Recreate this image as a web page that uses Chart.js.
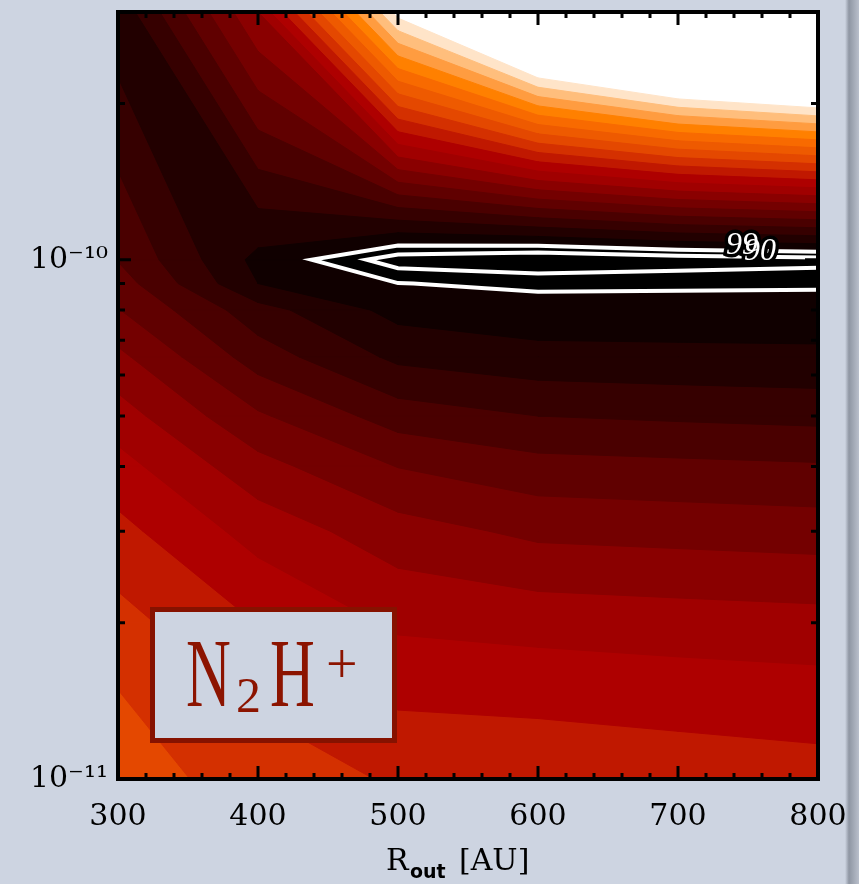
<!DOCTYPE html>
<html>
<head>
<meta charset="utf-8">
<script src="https://cdn.jsdelivr.net/npm/chart.js@4.4.0/dist/chart.umd.min.js"></script>
<style>
  html, body { margin: 0; padding: 0; }
  body {
    width: 859px; height: 884px; overflow: hidden;
    background: linear-gradient(to right, #cdd4e1 0px, #cdd4e1 845px, #8f96a3 849px, #b9bfcb 859px);
  }
</style>
</head>
<body>
<canvas id="chart" width="859" height="884"></canvas>
<script>
// grid of the map: R_out nodes (AU) and vertical-axis nodes
const rOut = [300, 400, 500, 600, 700, 800];
const yNodes = [1e-11, 1.5e-11, 2e-11, 3e-11, 4e-11, 5e-11, 6.5e-11, 8e-11, 9e-11, 1e-10, 3e-10];

// level read at each node, one column per R_out (bottom -> top)
const lev300 = [7.2, 8.02, 8.64, 9.70, 10.63, 11.54, 12.75, 13.95, 14.5, 15.05, 17.7];
const lev400 = [8.76, 9.1, 10.03, 11.39, 12.64, 13.85, 15.49, 16.6, 18.0, 18.3, 12.0];
const lev500 = [9.05, 10.31, 11.16, 12.57, 14.03, 15.47, 17.23, 18.34, 18.98, 20.13, 0.52];
const lev600 = [9.2, 10.41, 11.36, 13.23, 14.64, 16.0, 17.65, 18.64, 19.16, 20.5, -6.07];
const lev700 = [9.4, 10.55, 11.5, 13.35, 14.77, 16.15, 17.75, 18.55, 19.17, 20.19, -9.37];
const lev800 = [9.58, 10.67, 11.62, 13.47, 14.89, 16.28, 17.82, 18.47, 19.16, 20.0, -11.0];

// filled contour boundaries and their colours (low -> high)
const bandEdges = [1, 2, 3, 4, 5, 6, 7, 8, 9, 10, 11, 12, 13, 14, 15, 16, 17, 18, 19];
const bandColors = ['#ffffff', '#ffe4c8', '#ffbe7c', '#ff9c40', '#ff8000', '#f86a00', '#ee5a00', '#e44800',
  '#d43000', '#c01800', '#ae0000', '#a00000', '#8a0000', '#740000', '#600000', '#4a0000',
  '#360000', '#220000', '#100000', '#000000'];

// line contours (confidence levels) and their labels
const lineLevels = [19.0, 19.72];
const lineNames = ['90', '99'];
const labelText = ['99', '90'];
const labelR = [745.7, 758.6];
const labelY = [1.064e-10, 1.036e-10];

// axes
const xTickValues = [300, 400, 500, 600, 700, 800];
const xTickLabels = ['300', '400', '500', '600', '700', '800'];
const yTickValues = [1e-11, 1e-10];
const yTickLabels = ['10\u207B\u00B9\u00B9', '10\u207B\u00B9\u2070'];
const yMinorTicks = [2e-11, 3e-11, 4e-11, 5e-11, 6e-11, 7e-11, 8e-11, 9e-11, 2e-10];
const xMinorStep = 20;

// --- grid cells ---
const cols = [lev300, lev400, lev500, lev600, lev700, lev800];
function node(i, j) {
    return { x: rOut[i], v: Math.log10(yNodes[j]), z: cols[i][j] };
}
const cells = [];
for (let i = 0; i < rOut.length - 1; i++) {
    for (let j = 0; j < yNodes.length - 1; j++) {
        // bottom-left, bottom-right, top-right, top-left
        cells.push([node(i, j), node(i + 1, j), node(i + 1, j + 1), node(i, j + 1)]);
    }
}

function edgePoint(p, q, c) {
    if (p.x > q.x || (p.x === q.x && p.v > q.v)) { const t = p; p = q; q = t; }
    const t = (c - p.z) / (q.z - p.z);
    return { x: p.x + t * (q.x - p.x), v: p.v + t * (q.v - p.v), z: c };
}

// part of a cell at or above a level (values linear along the cell edges)
function above(poly, lvl) {
    const out = [];
    for (let k = 0; k < poly.length; k++) {
        const p = poly[k], q = poly[(k + 1) % poly.length];
        const pin = p.z >= lvl, qin = q.z >= lvl;
        if (pin) out.push(p);
        if (pin !== qin) out.push(edgePoint(p, q, lvl));
    }
    return out;
}

const datasets = [];
const toData = poly => {
    const pts = poly.map(p => ({ x: p.x, y: Math.pow(10, p.v) }));
    pts.push(pts[0]);
    return pts;
};

// filled bands, painted as stacked regions z >= level
cells.forEach(cell => {
    const zs = cell.map(p => p.z);
    const zmin = Math.min(...zs), zmax = Math.max(...zs);
    for (let k = 0; k < bandColors.length; k++) {
        const lo = k === 0 ? -Infinity : bandEdges[k - 1];
        const hi = k < bandEdges.length ? bandEdges[k] : Infinity;
        if (zmax < lo) break;
        if (zmin >= hi) continue;
        const poly = k === 0 ? cell : above(cell, lo);
        if (poly.length < 3) continue;
        datasets.push({
            data: toData(poly), showLine: true, fill: 'shape', order: 100 - k,
            backgroundColor: bandColors[k], borderColor: bandColors[k], borderWidth: 1,
            pointRadius: 0, pointHoverRadius: 0
        });
    }
});

// contour lines (marching squares)
function contourChains(c) {
    const segs = [];
    cells.forEach(cell => {
        const pts = [];
        for (let k = 0; k < 4; k++) {
            const p = cell[k], q = cell[(k + 1) % 4];
            pts.push((p.z < c) !== (q.z < c) ? edgePoint(p, q, c) : null);
        }
        const hit = pts.filter(p => p);
        if (hit.length === 2) segs.push(hit);
        else if (hit.length === 4) {
            if (cell[0].z >= c) { segs.push([pts[0], pts[1]], [pts[2], pts[3]]); }
            else { segs.push([pts[3], pts[0]], [pts[1], pts[2]]); }
        }
    });
    const key = p => p.x.toFixed(6) + ',' + p.v.toFixed(6);
    const ends = {};
    segs.forEach((s, i) => s.forEach(p => { (ends[key(p)] = ends[key(p)] || []).push(i); }));
    const used = segs.map(() => false);
    function walk(i, start) {
        const chain = [start];
        let cur = i, pt = start;
        while (cur !== undefined) {
            used[cur] = true;
            const s = segs[cur];
            pt = key(s[0]) === key(pt) ? s[1] : s[0];
            chain.push(pt);
            cur = ends[key(pt)].find(j => !used[j]);
        }
        return chain;
    }
    const chains = [];
    segs.forEach((s, i) => {
        if (used[i]) return;
        if (ends[key(s[0])].length === 1) chains.push(walk(i, s[0]));
        else if (ends[key(s[1])].length === 1) chains.push(walk(i, s[1]));
    });
    segs.forEach((s, i) => { if (!used[i]) chains.push(walk(i, s[0])); });
    return chains;
}
lineLevels.forEach((lvl, n) => {
    contourChains(lvl).forEach(chain => {
        datasets.push({
            label: lineNames[n],
            data: chain.map(p => ({ x: p.x, y: Math.pow(10, p.v) })),
            showLine: true, fill: false, order: 0,
            borderColor: '#ffffff', borderWidth: 4, borderJoinStyle: 'miter',
            pointRadius: 0, pointHoverRadius: 0
        });
    });
});

// frame, inward ticks and text
const decor = {
    id: 'decor',
    afterDatasetsDraw(chart) {
        const { ctx, chartArea: a, scales: { x, y } } = chart;
        ctx.save();

        // contour labels
        ctx.font = 'italic 32px "Liberation Serif"';
        ctx.textAlign = 'center';
        ctx.textBaseline = 'middle';
        labelText.forEach((t, i) => {
            const px = x.getPixelForValue(labelR[i]), py = y.getPixelForValue(labelY[i]);
            ctx.lineWidth = 7; ctx.strokeStyle = '#000000';
            ctx.strokeText(t, px, py);
        });
        labelText.forEach((t, i) => {
            const px = x.getPixelForValue(labelR[i]), py = y.getPixelForValue(labelY[i]);
            ctx.fillStyle = '#ffffff';
            ctx.fillText(t, px, py);
        });

        // species box
        const bx = a.left + 34.5, by = a.top + 597.5, bw = 242, bh = 131;
        ctx.fillStyle = '#cdd4e1';
        ctx.fillRect(bx, by, bw, bh);
        ctx.lineWidth = 5; ctx.strokeStyle = '#861200';
        ctx.strokeRect(bx, by, bw, bh);
        ctx.fillStyle = '#8c1400';
        ctx.textAlign = 'left'; ctx.textBaseline = 'alphabetic';
        ctx.save();
        ctx.translate(a.left + 68, a.top + 694);
        ctx.scale(0.64, 1);
        ctx.font = '97px "Liberation Serif"';
        ctx.fillText('N', 0, 0);
        ctx.restore();
        ctx.font = '50px "Liberation Serif"';
        ctx.fillText('2', a.left + 118, a.top + 700);
        ctx.save();
        ctx.translate(a.left + 152, a.top + 694);
        ctx.scale(0.64, 1);
        ctx.font = '97px "Liberation Serif"';
        ctx.fillText('H', 0, 0);
        ctx.restore();
        ctx.font = '56px "Liberation Serif"';
        ctx.fillText('+', a.left + 208, a.top + 671);

        // ticks (inward, all four sides)
        ctx.strokeStyle = '#000000';
        ctx.lineWidth = 3;
        ctx.beginPath();
        for (let v = x.min; v <= x.max; v += xMinorStep) {
            const px = x.getPixelForValue(v);
            const len = xTickValues.includes(v) ? 13 : 6;
            ctx.moveTo(px, a.bottom); ctx.lineTo(px, a.bottom - len);
            ctx.moveTo(px, a.top); ctx.lineTo(px, a.top + len);
        }
        yTickValues.concat(yMinorTicks).forEach(v => {
            const py = y.getPixelForValue(v);
            const len = yTickValues.includes(v) ? 13 : 7;
            ctx.moveTo(a.left, py); ctx.lineTo(a.left + len, py);
            ctx.moveTo(a.right, py); ctx.lineTo(a.right - len, py);
        });
        ctx.stroke();
        ctx.lineWidth = 4;
        ctx.strokeRect(a.left, a.top, a.right - a.left, a.bottom - a.top);

        // x axis title: R_out [AU]
        ctx.fillStyle = '#000000';
        ctx.textBaseline = 'alphabetic';
        ctx.font = '30px "DejaVu Serif"';
        const tx = a.left + 268, ty = 870;
        ctx.fillText('R', tx, ty);
        ctx.font = 'bold 19px "DejaVu Sans"';
        ctx.fillText('out', tx + 24, ty + 8);
        ctx.font = '30px "DejaVu Serif"';
        ctx.fillText('[AU]', tx + 73, ty);
        ctx.restore();
    }
};

new Chart(document.getElementById('chart'), {
    type: 'scatter',
    data: { datasets: datasets },
    options: {
        responsive: false,
        animation: false,
        events: [],
        layout: { padding: { top: 12, right: 41, left: 0, bottom: 0 } },
        plugins: { legend: { display: false }, tooltip: { enabled: false } },
        scales: {
            x: {
                type: 'linear', min: 300, max: 800,
                afterBuildTicks: s => { s.ticks = xTickValues.map(v => ({ value: v })); },
                afterFit: s => { s.height = 105; s.paddingLeft = 0; s.paddingRight = 0; },
                grid: { display: false, drawTicks: false },
                border: { display: false },
                ticks: {
                    autoSkip: false, maxRotation: 0, padding: 20, color: '#000000',
                    font: { family: 'DejaVu Serif', size: 30 },
                    callback: v => { const i = xTickValues.indexOf(v); return i >= 0 ? xTickLabels[i] : ''; }
                }
            },
            y: {
                type: 'logarithmic', min: 1e-11, max: 3e-10,
                afterBuildTicks: s => { s.ticks = yTickValues.map(v => ({ value: v })); },
                afterFit: s => { s.width = 118; s.paddingTop = 0; s.paddingBottom = 0; },
                grid: { display: false, drawTicks: false },
                border: { display: false },
                ticks: {
                    autoSkip: false, padding: 10, color: '#000000',
                    font: { family: 'DejaVu Serif', size: 30 },
                    callback: v => {
                        const i = yTickValues.findIndex(t => Math.abs(t - v) / t < 1e-6);
                        return i >= 0 ? yTickLabels[i] : '';
                    }
                }
            }
        }
    },
    plugins: [decor]
});
</script>
</body>
</html>
